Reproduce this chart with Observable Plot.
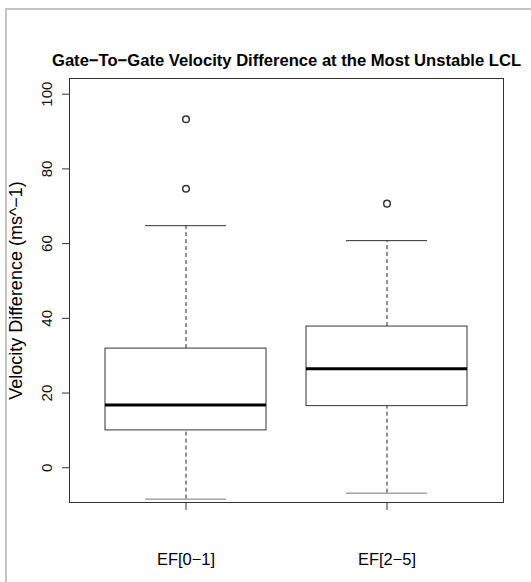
<!DOCTYPE html>
<html><head><meta charset="utf-8">
<script src="https://cdn.jsdelivr.net/npm/d3@7"></script>
<script src="https://cdn.jsdelivr.net/npm/@observablehq/plot@0.6"></script>
<style>
html,body{margin:0;padding:0;background:#fff;}
#wrap{position:relative;width:531px;height:582px;overflow:hidden;background:#fff;}
#border{position:absolute;left:5px;top:8px;right:-10px;bottom:-10px;border-top:2px solid #c4c4c4;border-left:2px solid #c4c4c4;pointer-events:none;}
#chart{position:absolute;left:0;top:0;}
</style></head><body>
<div id="wrap"><div id="chart"></div><div id="border"></div></div>
<script>
const categories = ["EF[0−1]", "EF[2−5]"];
const lowerWhisker = [-8.4, -6.8];
const q1 = [10.0, 16.5];
const median = [16.8, 26.5];
const q3 = [31.9, 37.8];
const upperWhisker = [64.8, 60.8];
const outlierGroup = ["EF[0−1]", "EF[0−1]", "EF[2−5]"];
const outlierValue = [93.3, 74.7, 70.7];
const yTicks = [0, 20, 40, 60, 80, 100];
const title = "Gate−To−Gate Velocity Difference at the Most Unstable LCL";
const yLabel = "Velocity Difference (ms^−1)";

const boxes = categories.map((c, i) => ({
  cat: c, lo: lowerWhisker[i], q1: q1[i], med: median[i], q3: q3[i], hi: upperWhisker[i]
}));
const outliers = outlierGroup.map((c, i) => ({cat: c, v: outlierValue[i]}));

const font = "'Liberation Sans', Arial, Helvetica, sans-serif";
const lineCol = "#333";

const chart = Plot.plot({
  width: 531,
  height: 582,
  marginLeft: 69,
  marginRight: 28,
  marginTop: 78,
  marginBottom: 80,
  style: {fontFamily: font, background: "white", color: "#000", overflow: "visible"},
  x: {type: "band", domain: categories, paddingInner: 0.2, paddingOuter: 0.177, align: 0.5, label: null},
  y: {domain: [-9.3, 104.2], label: null},
  marks: [
    Plot.frame({stroke: lineCol}),
    Plot.ruleX(boxes, {x: "cat", y1: "q3", y2: "hi", stroke: "#222", strokeDasharray: "4,3"}),
    Plot.ruleX(boxes, {x: "cat", y1: "lo", y2: "q1", stroke: "#222", strokeDasharray: "4,3"}),
    Plot.tickY(boxes, {x: "cat", y: "hi", stroke: lineCol, insetLeft: 40, insetRight: 40}),
    Plot.tickY(boxes, {x: "cat", y: "lo", stroke: "#777", insetLeft: 40, insetRight: 40}),
    Plot.barY(boxes, {x: "cat", y1: "q1", y2: "q3", fill: "white", stroke: lineCol}),
    Plot.tickY(boxes, {x: "cat", y: "med", stroke: "#000", strokeWidth: 3}),
    Plot.dot(outliers, {x: "cat", y: "v", r: 3.3, stroke: lineCol, fill: "none"}),
    Plot.axisX({tickSize: 8, tickPadding: 43, fontSize: 16.5, label: null, stroke: lineCol}),
    Plot.axisY({ticks: yTicks, tickSize: 7, tickFormat: () => "", label: null, stroke: lineCol}),
    Plot.text(yTicks, {y: d => d, text: d => `${d}`, frameAnchor: "left", dx: -22, rotate: -90,
      textAnchor: "middle", fontSize: 15, fill: "#111"}),
    Plot.text([yLabel], {text: d => d, frameAnchor: "left", dx: -53.5, rotate: -90,
      textAnchor: "middle", fontSize: 18, fill: "#000"}),
    Plot.text([title], {text: d => d, frameAnchor: "top", dy: -24, textAnchor: "middle",
      fontSize: 16.6, fontWeight: "bold", fill: "#000"})
  ]
});
document.getElementById("chart").appendChild(chart);
</script>
</body></html>
